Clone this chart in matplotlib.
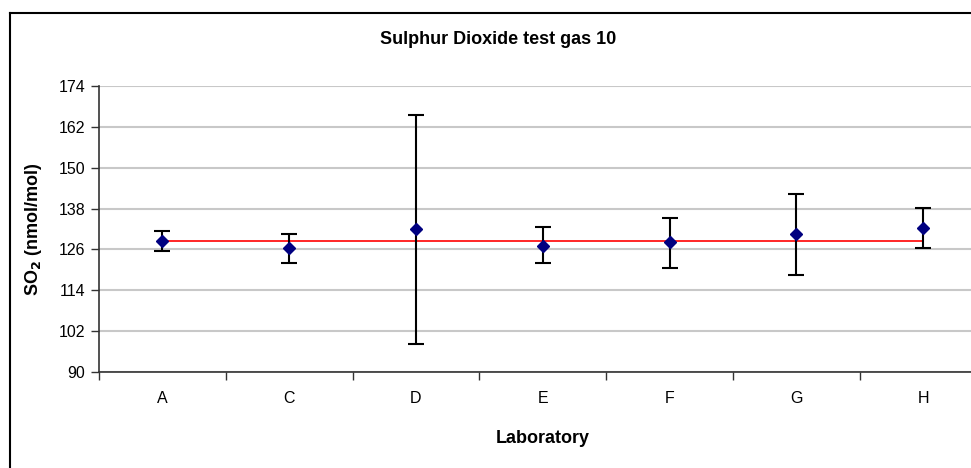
import matplotlib.pyplot as plt
from matplotlib.lines import Line2D

plt.rcParams['font.family'] = ['Liberation Sans', 'DejaVu Sans']

# Data
labs = ['A', 'C', 'D', 'E', 'F', 'G', 'H']
so2 = [128.4, 126.5, 132.0, 127.0, 128.1, 130.5, 132.4]
err_low = [125.5, 122.1, 98.3, 122.1, 120.5, 118.6, 126.5]
err_high = [131.5, 130.5, 165.6, 132.5, 135.3, 142.4, 138.2]
ref_value = [128.5] * len(labs)
yticks = [90, 102, 114, 126, 138, 150, 162, 174]

W, H = 971, 468
fig = plt.figure(figsize=(W / 100, H / 100), dpi=100)
ax = fig.add_axes([99 / W, 1 - 372 / H, 887.5 / W, 286 / H])

x = list(range(len(labs)))
lower = [v - lo for v, lo in zip(so2, err_low)]
upper = [hi - v for v, hi in zip(so2, err_high)]

ax.plot(x, ref_value, color='#ff0000', lw=1.2, zorder=2)
ax.errorbar(x, so2, yerr=[lower, upper], fmt='D', color='#000080', ms=6,
            ecolor='black', elinewidth=1.5, capsize=5.5, capthick=1.5, zorder=3)

ax.set_xlim(-0.5, len(labs) - 0.5)
ax.set_ylim(90, 174)
ax.set_yticks(yticks)
ax.set_xticks(x)
ax.set_xticklabels(labs)
ax.set_xticks([i + 0.5 for i in range(-1, len(labs))], minor=True)
ax.tick_params(axis='x', which='major', length=0, labelsize=11.5, pad=14)
ax.tick_params(axis='x', which='minor', length=6, width=1, color='#333333')
ax.tick_params(axis='y', length=6, width=1, labelsize=11.5, pad=4, color='#333333')
ax.yaxis.grid(True, color='#c8c8c8', lw=1.5)
ax.set_axisbelow(True)

for s in ['top', 'right']:
    ax.spines[s].set_visible(False)
for s in ['left', 'bottom']:
    ax.spines[s].set_color('#333333')
    ax.spines[s].set_linewidth(1.2)

ax.set_xlabel('Laboratory', fontsize=13, fontweight='bold', labelpad=17)
ax.set_ylabel('SO$_\\mathbf{2}$ (nmol/mol)', fontsize=13, fontweight='bold', labelpad=10)
fig.text(498 / W, 1 - 40 / H, 'Sulphur Dioxide test gas 10', ha='center', va='center',
         fontsize=13, fontweight='bold')

# outer chart border (cropped on right and bottom)
fig.add_artist(Line2D([10 / W, 10 / W], [0, 1 - 13 / H], color='black', lw=1.5,
                      transform=fig.transFigure))
fig.add_artist(Line2D([10 / W, 1], [1 - 13 / H, 1 - 13 / H], color='black', lw=1.5,
                      transform=fig.transFigure))

plt.savefig('out.png', dpi=100)
